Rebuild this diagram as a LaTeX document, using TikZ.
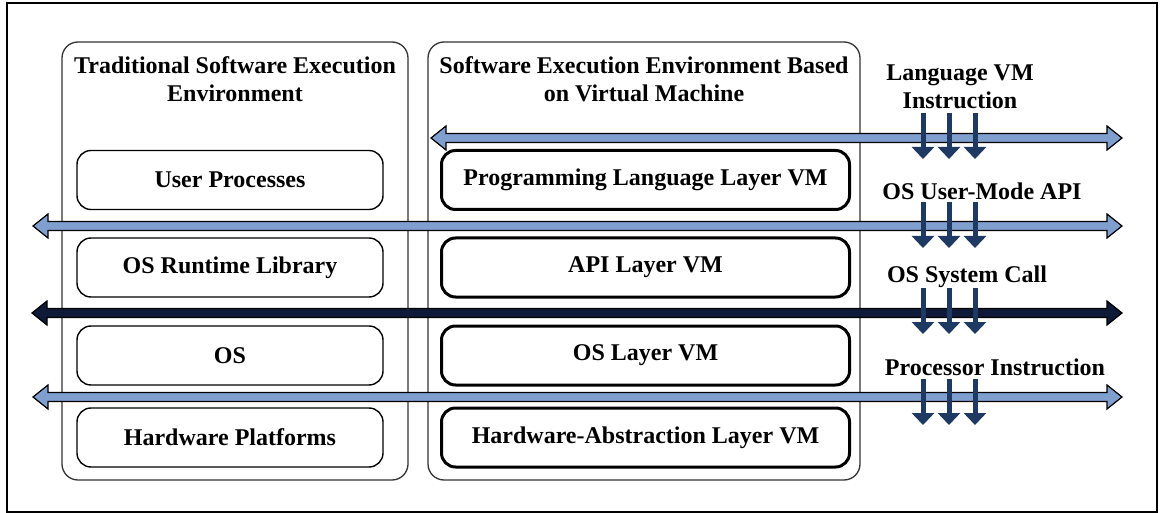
\documentclass[tikz,border=0pt]{standalone}
\usepackage{fontspec}
\setmainfont{Liberation Serif}
\usetikzlibrary{arrows.meta,calc}
\definecolor{busblue}{HTML}{7F9FCF}
\definecolor{busnavy}{HTML}{0E1A38}
\definecolor{dropblue}{HTML}{1F3A62}
\tikzset{
  lbl/.style={font=\fontsize{24}{28}\selectfont\bfseries, align=center, inner sep=0pt},
  envbox/.style={draw=black!80, line width=1.3pt, rounded corners=16pt},
  thinlayer/.style={draw=black, line width=1.4pt, rounded corners=14pt, minimum width=306pt, minimum height=59pt, inner sep=0pt},
  thicklayer/.style={draw=black, line width=3pt, rounded corners=14pt, minimum width=408pt, minimum height=59pt, inner sep=0pt},
  bus/.style={draw=black, line width=1.2pt, line join=miter},
  drop/.style={draw=dropblue, line width=5pt, -{Triangle[width=22pt,length=12pt]}}
}
% horizontal two-headed bus arrow between two named coordinates
\newcommand{\busarrow}[3]{%
  \path[bus,fill=#3] (#1) -- ++(15,-12) -- ++(0,7.5) -- ($(#2)+(-15,-4.5)$) -- ++(0,-7.5)
    -- (#2) -- ++(-15,12) -- ++(0,-7.5) -- ($(#1)+(15,4.5)$) -- ++(0,7.5) -- cycle;}
\begin{document}
\begin{tikzpicture}[x=1pt,y=-1pt]
\useasboundingbox (0,0) rectangle (1162,513);
\fill[white] (0,0) rectangle (1162,513);
\draw[line width=2pt] (7,3.5) rectangle (1157,511.5);

% the two environment containers
\draw[envbox] (62,42) rectangle (408,480);
\draw[envbox] (428,42) rectangle (860,480);
\node[lbl] (tradtitle) at (235,79.5) {Traditional Software Execution\\Environment};
\node[lbl] (vmtitle) at (644,79.5) {Software Execution Environment Based\\on Virtual Machine};

% traditional stack
\node[thinlayer] (up) at (230,180) {};
\node[lbl] at (up) {User Processes};
\node[thinlayer] (rt) at (230,267.5) {};
\node[lbl] at (rt) {OS Runtime Library};
\node[thinlayer] (os) at (230,355.5) {};
\node[lbl] at (os) {OS};
\node[thinlayer] (hw) at (230,437.5) {};
\node[lbl] at (hw) {Hardware Platforms};

% virtual machine stack
\node[thicklayer] (plvm) at (645.5,180) {};
\node[lbl] at (plvm) {Programming Language Layer VM};
\node[thicklayer] (apivm) at (645.5,267.5) {};
\node[lbl] at (apivm) {API Layer VM};
\node[thicklayer] (osvm) at (645.5,355.5) {};
\node[lbl] at (osvm) {OS Layer VM};
\node[thicklayer] (halvm) at (645.5,437.5) {};
\node[lbl] at (halvm) {Hardware-Abstraction Layer VM};

% interface buses
\coordinate (langL) at (431,138);  \coordinate (langR) at (1122,138);
\coordinate (apiL) at (33,226);    \coordinate (apiR) at (1122,226);
\coordinate (sysL) at (32,313);    \coordinate (sysR) at (1122,313);
\coordinate (isaL) at (33,397);    \coordinate (isaR) at (1122,397);
\busarrow{langL}{langR}{busblue}
\busarrow{apiL}{apiR}{busblue}
\busarrow{sysL}{sysR}{busnavy}
\busarrow{isaL}{isaR}{busblue}

% interface labels
\node[lbl] (langlbl) at (960,87) {Language VM\\Instruction};
\node[lbl] (apilbl) at (982,191) {OS User-Mode API};
\node[lbl] (syslbl) at (967,277) {OS System Call};
\node[lbl] (isalbl) at (995,367) {Processor Instruction};

% instruction flow arrows crossing each bus
\foreach \x in {923,949,975}{
  \draw[drop] (\x,113) -- (\x,159);
  \draw[drop] (\x,202) -- (\x,248);
  \draw[drop] (\x,288) -- (\x,334);
  \draw[drop] (\x,379) -- (\x,425);
}
\end{tikzpicture}
\end{document}
